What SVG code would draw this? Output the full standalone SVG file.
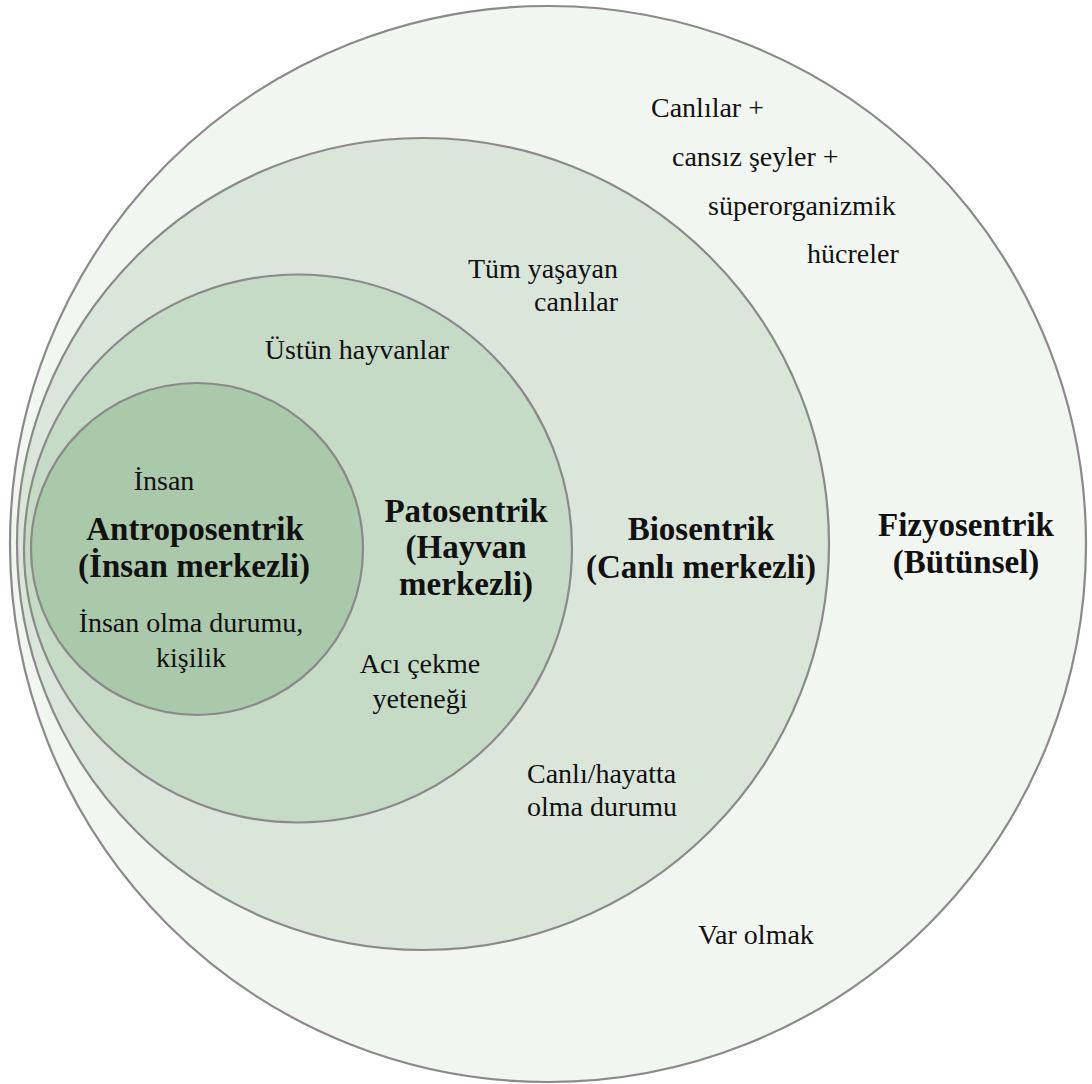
<svg xmlns="http://www.w3.org/2000/svg" width="1092" height="1084" viewBox="0 0 1092 1084">
<style>
.ring{stroke:#8a8a8a;stroke-width:2.2}
text{fill:#111}
.t{font-size:28px}
.b{font-size:33px;font-weight:bold;text-anchor:middle}
.m{text-anchor:middle}
</style>
<rect width="1092" height="1084" fill="#ffffff"/>
<g font-family="Liberation Serif, Tinos, DejaVu Serif, serif">
<g id="fizyosentrik">
<circle class="ring" cx="548" cy="544" r="538" fill="#f1f6f1"/>
<text class="t" x="651" y="117">Canlılar +</text>
<text class="t" x="672" y="166">cansız şeyler +</text>
<text class="t" x="708" y="215">süperorganizmik</text>
<text class="t" x="807" y="263">hücreler</text>
<text class="t" x="698" y="944">Var olmak</text>
<text class="b" x="966" y="536">Fizyosentrik</text>
<text class="b" x="966" y="573">(Bütünsel)</text>
</g>
<g id="biosentrik">
<circle class="ring" cx="423" cy="544" r="406" fill="#dbe6db"/>
<text class="t" x="618" y="278" text-anchor="end">Tüm yaşayan</text>
<text class="t" x="618" y="311" text-anchor="end">canlılar</text>
<text class="t" x="527" y="783">Canlı/hayatta</text>
<text class="t" x="527" y="816">olma durumu</text>
<text class="b" x="701" y="540">Biosentrik</text>
<text class="b" x="701" y="578">(Canlı merkezli)</text>
</g>
<g id="patosentrik">
<circle class="ring" cx="298" cy="548.5" r="274" fill="#c6dbc6"/>
<text class="t m" x="357" y="359">Üstün hayvanlar</text>
<text class="b" x="466" y="522">Patosentrik</text>
<text class="b" x="466" y="558">(Hayvan</text>
<text class="b" x="466" y="595">merkezli)</text>
<text class="t m" x="420" y="673">Acı çekme</text>
<text class="t m" x="420" y="708">yeteneği</text>
</g>
<g id="antroposentrik">
<circle class="ring" cx="197" cy="549" r="166" fill="#aac8aa"/>
<text class="t m" x="164" y="490">İnsan</text>
<text class="b" x="195" y="540">Antroposentrik</text>
<text class="b" x="194" y="577">(İnsan merkezli)</text>
<text class="t m" x="191" y="632">İnsan olma durumu,</text>
<text class="t m" x="191" y="667">kişilik</text>
</g>
</g>
<g id="connectors"></g>
</svg>
